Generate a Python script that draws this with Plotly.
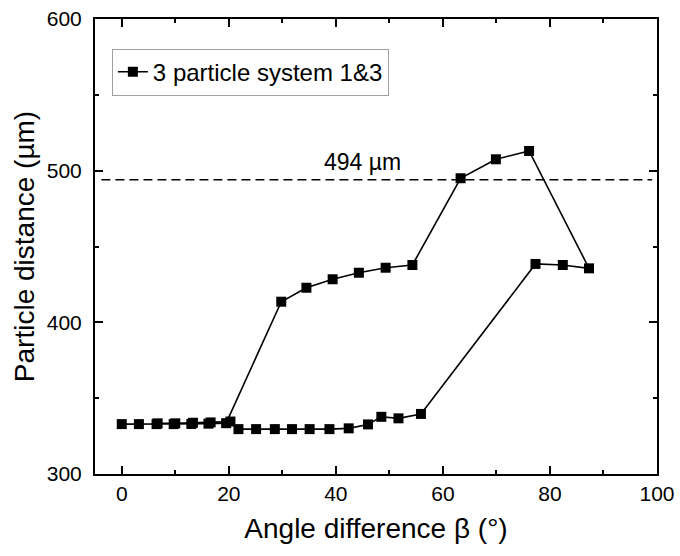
import plotly.graph_objects as go

# Data
angle = [0, 3.2, 6.5, 9.7, 13.0, 16.2, 19.5, 29.8, 34.5, 39.4, 44.3, 49.3, 54.3,
         63.3, 69.9, 76.1, 87.3, 82.4, 77.3, 55.9, 51.7, 48.5, 46.0, 42.4, 38.8,
         35.1, 31.8, 28.6, 25.1, 21.8, 20.3, 16.6, 13.3, 10.0, 6.7]
distance = [332.9, 332.9, 332.9, 332.9, 333.0, 333.2, 333.5, 413.6, 422.8, 428.4,
            432.7, 436.0, 437.8, 495.0, 507.5, 513.0, 435.6, 437.8, 438.5, 339.6,
            336.7, 337.7, 332.7, 330.1, 329.6, 329.6, 329.6, 329.6, 329.6, 329.6,
            334.6, 334.0, 333.8, 333.4, 333.4]
series_name = "3 particle system 1&3"
ref_value = 494
ref_label = "494 µm"
ref_x = [-3.8, 99.1]

FONT = "Liberation Sans, Arial, sans-serif"

fig = go.Figure()
fig.add_trace(go.Scatter(
    x=ref_x, y=[ref_value, ref_value], mode="lines",
    line=dict(color="black", width=1.5, dash="9px,5px"),
    showlegend=False, hoverinfo="skip"))
fig.add_trace(go.Scatter(
    x=angle, y=distance, mode="lines+markers", name=series_name,
    line=dict(color="black", width=1.6),
    marker=dict(symbol="square", size=10, color="black")))

fig.add_annotation(x=45.0, y=ref_value, yshift=18, text=ref_label, showarrow=False,
                   font=dict(family=FONT, size=23, color="black"))

axis_common = dict(
    showline=True, linecolor="black", linewidth=2, mirror="allticks",
    ticks="inside", ticklen=8, tickwidth=1.5, tickcolor="black",
    showgrid=False, zeroline=False,
    tickfont=dict(family=FONT, size=21, color="black"),
)

fig.update_xaxes(range=[-5, 100], dtick=20, tick0=0,
                 minor=dict(ticks="inside", ticklen=4, dtick=10, tickcolor="black", tickwidth=1.5),
                 title=dict(text="Angle difference β (°)", font=dict(family=FONT, size=28, color="black"), standoff=14),
                 **axis_common)
fig.update_yaxes(range=[300, 600], dtick=100, tick0=300,
                 minor=dict(ticks="inside", ticklen=4, dtick=50, tickcolor="black", tickwidth=1.5),
                 ticklabelstandoff=7,
                 title=dict(text="Particle distance (µm)", font=dict(family=FONT, size=28, color="black"), standoff=4),
                 **axis_common)

fig.update_layout(
    width=680, height=556,
    margin=dict(l=95, r=23, t=19, b=82, autoexpand=False),
    paper_bgcolor="white", plot_bgcolor="white",
    font=dict(family=FONT, color="black"),
    legend=dict(x=0.03, y=0.935, xanchor="left", yanchor="top",
                bordercolor="#a0a0a0", borderwidth=1, bgcolor="white",
                font=dict(family=FONT, size=24, color="black"),
                tracegroupgap=0, itemwidth=30),
)

fig.write_html("out.html")
